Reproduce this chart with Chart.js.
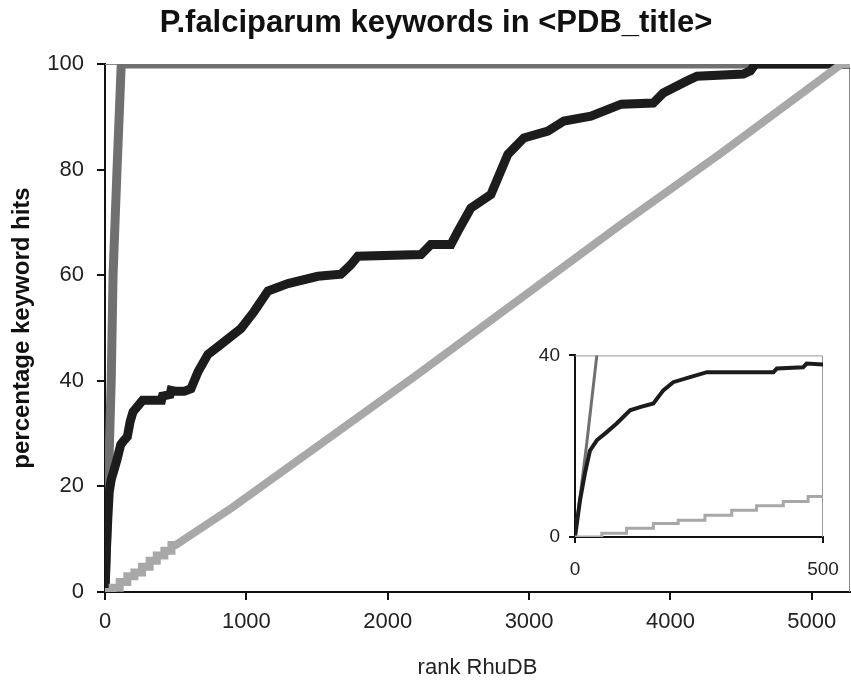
<!DOCTYPE html>
<html>
<head>
<meta charset="utf-8">
<title>P.falciparum keywords in &lt;PDB_title&gt;</title>
<script src="https://cdn.jsdelivr.net/npm/chart.js@4.4.1/dist/chart.umd.min.js"></script>
<style>
  html, body { margin: 0; padding: 0; background: #fff; overflow: hidden; }
  #wrap { position: relative; width: 851px; height: 687px; }
  #main { position: absolute; left: 0; top: 0; }
  #inset { position: absolute; left: 520px; top: 335px; }
</style>
</head>
<body>
<div id="wrap">
  <canvas id="main" width="851" height="687"></canvas>
  <canvas id="inset" width="340" height="250"></canvas>
</div>
<script>
const titleText = "P.falciparum keywords in <PDB_title>";
const xTitle = "rank RhuDB";
const yTitle = "percentage keyword hits";

// tick values
const mainXTicks = [0, 1000, 2000, 3000, 4000, 5000];
const mainYTicks = [0, 20, 40, 60, 80, 100];
const insetXTicks = [0, 500];
const insetYTicks = [0, 40];

// dark curve
const blackRank = [0, 10, 20, 30, 44, 64, 84, 111, 131, 158, 178, 198, 232, 266, 400, 407, 460, 467, 500,
  560, 608, 658, 728, 820, 962, 1054, 1153, 1294, 1506, 1669, 1740, 1789, 2235, 2305, 2447, 2496,
  2588, 2730, 2779, 2850, 2963, 3133, 3246, 3437, 3652, 3878, 3949, 4117, 4188, 4515, 4565, 4600, 5270];
const blackHits = [0, 8, 14, 19, 21.3, 23.1, 25, 27.9, 28.6, 29.4, 32.3, 34.1, 35.2, 36.3, 36.3, 37.1, 37.4, 38.2, 38,
  38, 38.5, 41.7, 45, 46.9, 49.9, 53.1, 57, 58.4, 59.8, 60.2, 62, 63.6, 63.9, 65.8, 65.8, 68.3,
  72.7, 75.3, 78.4, 82.9, 86, 87.3, 89.2, 90.1, 92.4, 92.6, 94.5, 96.8, 97.7, 98.1, 98.7, 100, 100];

// mid grey curve
const greyRank = [0, 23, 44, 57, 85, 115, 5270];
const greyHits = [0, 20, 40, 60, 80, 100, 100];

// light grey curve
const lightRank = [0, 54, 54, 104, 104, 158, 158, 208, 208, 262, 262, 316, 316, 366, 366, 420, 420, 470, 470, 500,
  900, 2200, 3645, 4352, 5210, 5270];
const lightHits = [0, 0, 0.8, 0.8, 1.9, 1.9, 3, 3, 3.7, 3.7, 4.8, 4.8, 5.9, 5.9, 6.9, 6.9, 7.8, 7.8, 8.9, 8.9,
  16, 41, 69.5, 83, 100, 100];

const family = "'Liberation Sans', Arial, sans-serif";
const toPoints = (xs, ys) => xs.map((x, i) => ({ x: x, y: ys[i] }));
const plain = v => String(v); // no thousands separator

// grey top/right edges of the plot area
const frameEdges = {
  id: "frameEdges",
  beforeDatasetsDraw(chart, args, opts) {
    const { ctx, chartArea: a } = chart;
    ctx.save();
    ctx.strokeStyle = opts.color;
    ctx.lineWidth = 1;
    ctx.beginPath();
    ctx.moveTo(a.left, a.top + 0.5);
    ctx.lineTo(a.right - 0.5, a.top + 0.5);
    ctx.lineTo(a.right - 0.5, a.bottom);
    ctx.stroke();
    ctx.restore();
  }
};

const chartTitle = {
  id: "chartTitle",
  afterDraw(chart, args, opts) {
    if (!opts.text) return;
    const ctx = chart.ctx;
    ctx.save();
    ctx.font = opts.font;
    ctx.fillStyle = opts.color;
    ctx.textAlign = "center";
    ctx.textBaseline = "middle";
    ctx.fillText(opts.text, opts.x, opts.y);
    ctx.restore();
  }
};

function makeSets(w) {
  return [
    { label: "light", data: toPoints(lightRank, lightHits), borderColor: "#a8a8a8", borderWidth: w[0], order: 0 },
    { label: "dark", data: toPoints(blackRank, blackHits), borderColor: "#1c1c1c", borderWidth: w[1], order: 1 },
    { label: "grey", data: toPoints(greyRank, greyHits), borderColor: "#707070", borderWidth: w[2], order: 2 }
  ];
}

const common = {
  responsive: false,
  animation: false,
  parsing: false,
  elements: { point: { radius: 0 }, line: { tension: 0, fill: false } },
  plugins: { legend: { display: false }, tooltip: { enabled: false } }
};

new Chart(document.getElementById("main").getContext("2d"), {
  type: "line",
  data: { datasets: makeSets([8, 9, 9]) },
  options: {
    ...common,
    layout: { padding: { top: 64, right: 1, left: 0, bottom: 0 } },
    plugins: {
      ...common.plugins,
      frameEdges: { color: "#8a8a8a" },
      chartTitle: { text: titleText, font: "bold 31px " + family, color: "#111", x: 436, y: 23 }
    },
    scales: {
      x: {
        type: "linear", min: 0, max: 5270,
        afterBuildTicks: s => { s.ticks = mainXTicks.map(v => ({ value: v })); },
        afterFit: s => { s.height = 95; },
        grid: { drawOnChartArea: false, tickLength: 8, color: "#111", lineWidth: 2 },
        border: { color: "#111", width: 2 },
        ticks: { padding: 9, color: "#222", font: { family: family, size: 22 }, callback: plain },
        title: { display: true, text: xTitle, color: "#222", font: { family: family, size: 22 }, padding: { top: 0, bottom: 6 } }
      },
      y: {
        type: "linear", min: 0, max: 100,
        afterBuildTicks: s => { s.ticks = mainYTicks.map(v => ({ value: v })); },
        afterFit: s => { s.width = 105; },
        grid: { drawOnChartArea: false, tickLength: 8, color: "#111", lineWidth: 2 },
        border: { color: "#111", width: 2 },
        ticks: { padding: 13, color: "#222", font: { family: family, size: 22 }, callback: plain },
        title: { display: true, text: yTitle, color: "#111", font: { family: family, size: 24, weight: "bold" }, padding: { top: 8, bottom: 0 } }
      }
    }
  },
  plugins: [frameEdges, chartTitle]
});

// zoomed inset, first 500 ranks
new Chart(document.getElementById("inset").getContext("2d"), {
  type: "line",
  data: { datasets: makeSets([3, 4, 3]) },
  options: {
    ...common,
    layout: { padding: { top: 20, right: 37, left: 0, bottom: 0 } },
    plugins: { ...common.plugins, frameEdges: { color: "#999" } },
    scales: {
      x: {
        type: "linear", min: 0, max: 500,
        afterBuildTicks: s => { s.ticks = insetXTicks.map(v => ({ value: v })); },
        afterFit: s => { s.height = 48; },
        grid: { drawOnChartArea: false, tickLength: 6, color: "#111", lineWidth: 2 },
        border: { color: "#111", width: 2 },
        ticks: { padding: 15, color: "#222", font: { family: family, size: 19 }, callback: plain }
      },
      y: {
        type: "linear", min: 0, max: 40,
        afterBuildTicks: s => { s.ticks = insetYTicks.map(v => ({ value: v })); },
        afterFit: s => { s.width = 55; },
        grid: { drawOnChartArea: false, tickLength: 6, color: "#111", lineWidth: 2 },
        border: { color: "#111", width: 2 },
        ticks: { padding: 9, color: "#222", font: { family: family, size: 19 }, callback: plain }
      }
    }
  },
  plugins: [frameEdges]
});
</script>
</body>
</html>
